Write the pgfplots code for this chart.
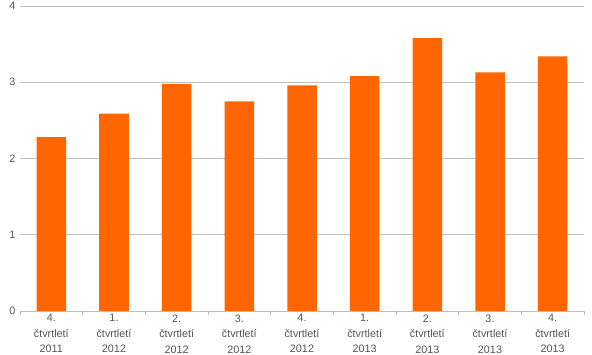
\documentclass[border=0pt]{standalone}
\usepackage{pgfplots}
\pgfplotsset{compat=1.18}
\usepackage{fontspec}
\setmainfont{Liberation Sans}
\definecolor{barc}{HTML}{FF6600}
\definecolor{gridc}{HTML}{C0C0C0}
\definecolor{txt}{HTML}{555555}
\definecolor{axc}{HTML}{B0C0D0}
\begin{document}
\begin{tikzpicture}
\path[use as bounding box] (-20pt,-44pt) rectangle (572pt,311pt);
\begin{axis}[
  at={(0pt,0pt)}, anchor=origin,
  scale only axis, width=564pt, height=305pt,
  xmin=0, xmax=9, ymin=0, ymax=4,
  axis x line*=bottom, axis y line*=left,
  y axis line style={draw=none},
  x axis line style={draw=axc, line width=0.8pt},
  ytick={0,1,2,3,4},
  ymajorgrids, grid style={draw=gridc, line width=0.8pt},
  xtick={0.5,1.5,...,8.5},
  xticklabels={{4.\\čtvrtletí\\2011},{1.\\čtvrtletí\\2012},{2.\\čtvrtletí\\2012},{3.\\čtvrtletí\\2012},{4.\\čtvrtletí\\2012},{1.\\čtvrtletí\\2013},{2.\\čtvrtletí\\2013},{3.\\čtvrtletí\\2013},{4.\\čtvrtletí\\2013}},
  xticklabel style={align=center, font=\fontsize{10.8}{15.5}\selectfont, text=txt, yshift=0pt},
  yticklabel style={font=\fontsize{10.8}{12}\selectfont, text=txt, xshift=-1pt},
  /pgf/number format/assume math mode=true,
  major tick length=0pt,
  minor xtick={0,1,...,9},
  minor tick length=4pt,
  tick align=outside,
  every minor tick/.style={draw=axc, line width=0.8pt},
  every major tick/.style={draw=none},
]
\addplot[ybar, bar width=29.5pt, bar shift=0pt, fill=barc, draw=none] coordinates {
(0.5,2.28) (1.5,2.59) (2.5,2.98) (3.5,2.75) (4.5,2.96) (5.5,3.08) (6.5,3.58) (7.5,3.13) (8.5,3.34)
};
\end{axis}
\end{tikzpicture}
\end{document}
